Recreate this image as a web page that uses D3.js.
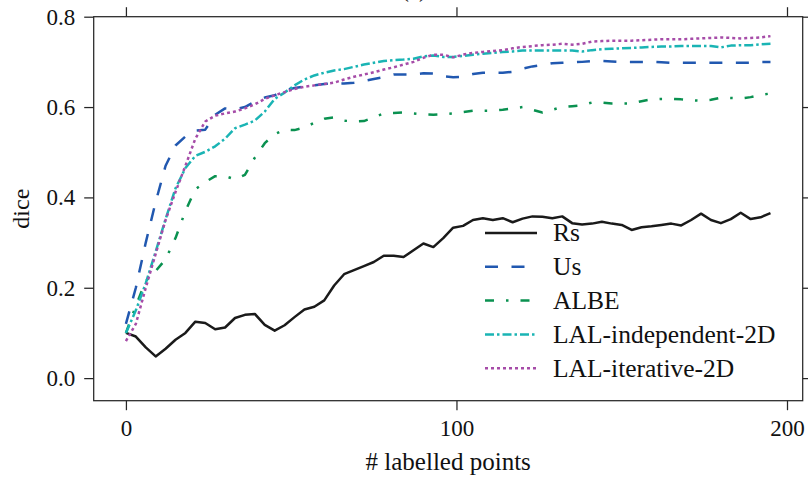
<!DOCTYPE html>
<html>
<head>
<meta charset="utf-8">
<script src="https://cdn.jsdelivr.net/npm/d3@7/dist/d3.min.js"></script>
<style>
  html, body { margin: 0; padding: 0; background: #fff; }
  svg { display: block; }
  svg text { font-family: "Liberation Serif", "DejaVu Serif", "Times New Roman", serif !important; fill: #111; }
</style>
</head>
<body>
<svg id="chart" width="808" height="479"></svg>
<script>
// Number of labelled points at which each method was evaluated
const labelledPoints = [0, 3, 6, 9, 12, 15, 18, 21, 24, 27, 30, 33, 36, 39, 42, 45, 48, 51, 54, 57,
  60, 63, 66, 69, 72, 75, 78, 81, 84, 87, 90, 93, 96, 99, 102, 105, 108, 111, 114, 117,
  120, 123, 126, 129, 132, 135, 138, 141, 144, 147, 150, 153, 156, 159, 162, 165, 168, 171, 174, 177,
  180, 183, 186, 189, 192, 195];

// Dice score per method
const diceRs = [0.100, 0.092, 0.068, 0.048, 0.065, 0.085, 0.100, 0.125, 0.122, 0.108, 0.112, 0.133, 0.140, 0.142, 0.118, 0.105, 0.117, 0.135, 0.152, 0.158,
  0.172, 0.205, 0.230, 0.239, 0.248, 0.257, 0.271, 0.271, 0.268, 0.283, 0.298, 0.290, 0.310, 0.333, 0.337, 0.350, 0.354, 0.350, 0.354, 0.345,
  0.353, 0.358, 0.357, 0.354, 0.358, 0.343, 0.340, 0.342, 0.346, 0.342, 0.339, 0.328, 0.334, 0.336, 0.339, 0.342, 0.338, 0.350, 0.364, 0.350,
  0.343, 0.352, 0.366, 0.352, 0.356, 0.365];

const diceUs = [0.120, 0.200, 0.300, 0.390, 0.470, 0.515, 0.535, 0.548, 0.550, 0.583, 0.597, 0.595, 0.600, 0.612, 0.621, 0.626, 0.637, 0.642, 0.645, 0.648,
  0.651, 0.652, 0.652, 0.654, 0.658, 0.662, 0.666, 0.672, 0.672, 0.672, 0.675, 0.674, 0.668, 0.666, 0.667, 0.673, 0.676, 0.676, 0.676, 0.678,
  0.685, 0.690, 0.693, 0.697, 0.698, 0.699, 0.700, 0.702, 0.702, 0.701, 0.700, 0.700, 0.700, 0.700, 0.699, 0.698, 0.698, 0.698, 0.698, 0.698,
  0.698, 0.698, 0.698, 0.698, 0.700, 0.700];

const diceALBE = [0.100, 0.160, 0.215, 0.237, 0.263, 0.310, 0.370, 0.418, 0.434, 0.447, 0.447, 0.440, 0.450, 0.488, 0.520, 0.540, 0.550, 0.549, 0.555, 0.565,
  0.574, 0.577, 0.570, 0.568, 0.569, 0.577, 0.586, 0.587, 0.588, 0.586, 0.584, 0.583, 0.584, 0.586, 0.589, 0.592, 0.592, 0.592, 0.594, 0.597,
  0.600, 0.594, 0.588, 0.594, 0.600, 0.602, 0.604, 0.610, 0.610, 0.608, 0.608, 0.608, 0.613, 0.617, 0.618, 0.618, 0.617, 0.615, 0.614, 0.616,
  0.621, 0.620, 0.619, 0.622, 0.627, 0.630];

const diceLALIndependent = [0.100, 0.150, 0.210, 0.280, 0.352, 0.420, 0.465, 0.492, 0.501, 0.513, 0.530, 0.553, 0.561, 0.570, 0.590, 0.618, 0.632, 0.648, 0.661, 0.670,
  0.676, 0.681, 0.684, 0.689, 0.694, 0.698, 0.702, 0.704, 0.705, 0.707, 0.712, 0.714, 0.711, 0.711, 0.713, 0.716, 0.718, 0.720, 0.722, 0.723,
  0.725, 0.725, 0.725, 0.725, 0.725, 0.725, 0.723, 0.726, 0.728, 0.729, 0.730, 0.731, 0.732, 0.733, 0.734, 0.734, 0.735, 0.735, 0.735, 0.735,
  0.732, 0.736, 0.737, 0.737, 0.739, 0.740];

const diceLALIterative = [0.082, 0.120, 0.200, 0.275, 0.350, 0.412, 0.470, 0.530, 0.568, 0.581, 0.586, 0.590, 0.597, 0.606, 0.618, 0.626, 0.633, 0.640, 0.645, 0.648,
  0.651, 0.654, 0.661, 0.667, 0.672, 0.677, 0.683, 0.688, 0.694, 0.700, 0.709, 0.716, 0.716, 0.710, 0.716, 0.720, 0.722, 0.724, 0.726, 0.730,
  0.733, 0.735, 0.737, 0.738, 0.740, 0.738, 0.740, 0.745, 0.746, 0.747, 0.747, 0.747, 0.748, 0.749, 0.750, 0.750, 0.750, 0.751, 0.752, 0.753,
  0.754, 0.753, 0.752, 0.753, 0.754, 0.757];

const seriesNames = ["Rs", "Us", "ALBE", "LAL-independent-2D", "LAL-iterative-2D"];
const seriesValues = [diceRs, diceUs, diceALBE, diceLALIndependent, diceLALIterative];

const xTicks = [0, 100, 200];
const yTicks = [0.0, 0.2, 0.4, 0.6, 0.8];

// Line styles for each method
const styles = [
  { color: "#1a1a1a", dash: null },
  { color: "#2158b0", dash: "13,13.5" },
  { color: "#0a9150", dash: "9,12,2.5,12" },
  { color: "#1ab4b4", dash: "9,3,2.5,3" },
  { color: "#a64ca8", dash: "3,3" }
];

const svg = d3.select("#chart");
const margin = { left: 93.7, right: 808 - 802.7, top: 16.7, bottom: 479 - 400.7 };
const W = 808, H = 479;

const x = d3.scaleLinear().domain([-9.75, 204.75]).range([margin.left, W - margin.right]);
const y = d3.scaleLinear().domain([-0.05, 0.8]).range([H - margin.bottom, margin.top]);

const axisColor = "#262626";
const fmt = d3.format(".1f");

// Panel title above the axes (runs off the top edge)
svg.append("text")
  .attr("x", 414).attr("y", -3.5)
  .attr("text-anchor", "middle")
  .style("font-size", "23px")
  .text("(a)");

// Data lines
const line = d3.line()
  .x((d, i) => x(labelledPoints[i]))
  .y(d => y(d));

const plot = svg.append("g");
seriesValues.forEach((vals, k) => {
  plot.append("path")
    .datum(vals)
    .attr("d", line)
    .attr("fill", "none")
    .attr("stroke", styles[k].color)
    .attr("stroke-width", 2.5)
    .attr("stroke-linejoin", "round")
    .attr("stroke-linecap", "butt")
    .attr("stroke-dasharray", styles[k].dash);
});

// Axes on all four sides, ticks pointing outward
function styleAxis(g) {
  g.attr("font-family", null);
  g.select(".domain").remove();
  g.selectAll(".tick line").attr("stroke", axisColor).attr("stroke-width", 1.25);
  g.selectAll(".tick text").style("font-size", "23px").attr("fill", "#111");
}

svg.append("g")
  .attr("transform", `translate(0,${H - margin.bottom})`)
  .call(d3.axisBottom(x).tickValues(xTicks).tickSize(9.5).tickPadding(9))
  .call(styleAxis);

svg.append("g")
  .attr("transform", `translate(0,${margin.top})`)
  .call(d3.axisTop(x).tickValues(xTicks).tickSize(9.5).tickFormat(""))
  .call(styleAxis);

svg.append("g")
  .attr("transform", `translate(${margin.left},0)`)
  .call(d3.axisLeft(y).tickValues(yTicks).tickSize(9.5).tickPadding(9).tickFormat(fmt))
  .call(styleAxis);

svg.append("g")
  .attr("transform", `translate(${W - margin.right},0)`)
  .call(d3.axisRight(y).tickValues(yTicks).tickSize(9.5).tickFormat(""))
  .call(styleAxis);

// Frame
svg.append("rect")
  .attr("x", margin.left).attr("y", margin.top)
  .attr("width", W - margin.left - margin.right)
  .attr("height", H - margin.top - margin.bottom)
  .attr("fill", "none")
  .attr("stroke", axisColor)
  .attr("stroke-width", 1.25);

// Axis titles
svg.append("text")
  .attr("x", (margin.left + W - margin.right) / 2)
  .attr("y", 470)
  .attr("text-anchor", "middle")
  .style("font-size", "25px")
  .text("# labelled points");

svg.append("text")
  .attr("transform", `translate(29,${(margin.top + H - margin.bottom) / 2}) rotate(-90)`)
  .attr("text-anchor", "middle")
  .style("font-size", "24px")
  .text("dice");

// Legend
const legend = svg.append("g");
const legendTop = 233, legendStep = 33.8;
seriesNames.forEach((name, k) => {
  const ly = legendTop + k * legendStep;
  legend.append("line")
    .attr("x1", 485).attr("x2", 537)
    .attr("y1", ly).attr("y2", ly)
    .attr("stroke", styles[k].color)
    .attr("stroke-width", 2.5)
    .attr("stroke-dasharray", styles[k].dash);
  legend.append("text")
    .attr("x", 553).attr("y", ly)
    .attr("dy", "0.33em")
    .style("font-size", "25.5px")
    .text(name);
});
</script>
</body>
</html>
